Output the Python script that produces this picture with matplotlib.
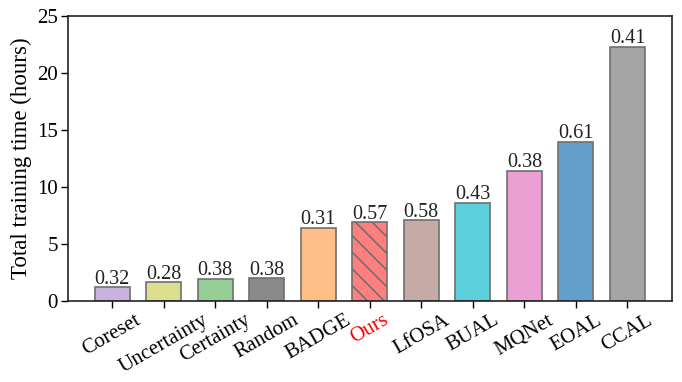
import matplotlib.pyplot as plt
import numpy as np

plt.rcParams['font.family'] = ['Liberation Serif', 'DejaVu Serif']

methods = ["Coreset", "Uncertainty", "Certainty", "Random", "BADGE", "Ours",
           "LfOSA", "BUAL", "MQNet", "EOAL", "CCAL"]
hours = [1.2, 1.64, 1.96, 1.99, 6.43, 6.9, 7.08, 8.62, 11.43, 13.97, 22.3]
labels = ["0.32", "0.28", "0.38", "0.38", "0.31", "0.57", "0.58", "0.43",
          "0.38", "0.61", "0.41"]
colors = ["#c9b3de", "#dddf90", "#95cf95", "#8a8a8a", "#ffbf86", "#ff7f7f",
          "#c5aaa5", "#5cd1dd", "#eba0d4", "#62a0cb", "#a5a5a5"]


def main():
    fig = plt.figure(figsize=(6.82, 3.82), dpi=100)
    ax = fig.add_axes([67.7 / 682, 1 - 301 / 382, (672.3 - 67.7) / 682, (301 - 15.7) / 382])

    x = np.arange(len(methods))
    plt.rcParams['hatch.linewidth'] = 1.2
    plt.rcParams['hatch.color'] = '#707070'
    bars = ax.bar(x, hours, width=0.68, color=colors, edgecolor='#707070', linewidth=1.2)
    bars[methods.index("Ours")].set_hatch('\\\\')

    ax.bar_label(bars, labels=labels, padding=-1, fontsize=14.5, color='#222222')

    ax.set_xlim(-0.86, 10.87)
    ax.set_ylim(0, 25)
    ax.set_yticks([0, 5, 10, 15, 20, 25])
    ax.set_xticks(x)
    ax.set_xticklabels(methods, rotation=30, ha='center', fontsize=15)
    ax.get_xticklabels()[methods.index("Ours")].set_color('red')
    ax.tick_params(axis='y', labelsize=15, length=5, width=1, direction='out', pad=2)
    ax.tick_params(axis='x', length=5, width=1, direction='out', pad=2)
    ax.set_ylabel("Total training time (hours)", fontsize=16.5, labelpad=4)

    for s in ax.spines.values():
        s.set_linewidth(1.2)
        s.set_color('#222222')

    fig.savefig("out.png", dpi=100)


if __name__ == "__main__":
    main()
